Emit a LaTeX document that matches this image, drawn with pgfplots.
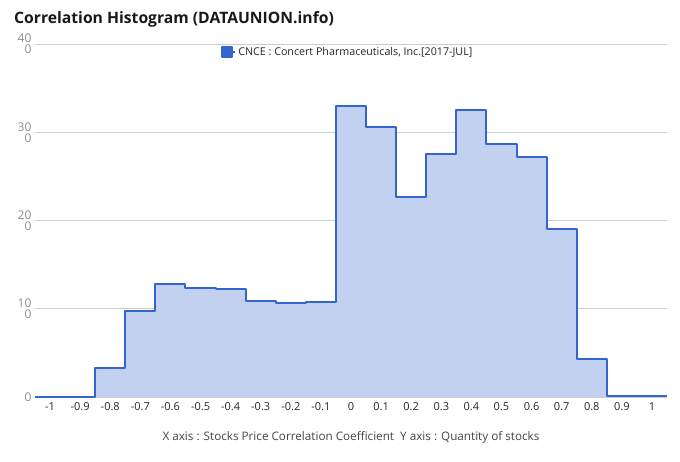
\documentclass[border=0pt]{standalone}
\usepackage{pgfplots}
\pgfplotsset{compat=1.18}
\usepackage{fontspec}
\setmainfont{Open Sans}

\definecolor{cnceblue}{RGB}{51,102,204}
\definecolor{cncefill}{RGB}{194,209,240}
\definecolor{gridgray}{RGB}{204,204,204}
\definecolor{labelgray}{RGB}{68,68,68}
\definecolor{ticklabgray}{RGB}{140,140,140}
\definecolor{basedark}{RGB}{51,51,51}

% step edges: each value holds from its x to the next x
\pgfplotstableread{
x y
-1.05 0
-0.95 0
-0.85 33
-0.75 98
-0.65 128
-0.55 123
-0.45 122
-0.35 109
-0.25 106
-0.15 108
-0.05 330
0.05 306
0.15 227
0.25 275
0.35 325
0.45 287
0.55 272
0.65 190
0.75 43
0.85 1
0.95 1
1.05 1
}\histdata

\begin{document}
\begin{tikzpicture}
\path[use as bounding box] (0pt,0pt) rectangle (680pt,462pt);
\node[anchor=base west, font=\bfseries\fontsize{15.7}{19}\selectfont, text=black!90, inner sep=0pt] at (14pt,438pt) {Correlation Histogram (DATAUNION.info)};

\begin{axis}[
at={(35pt,65pt)}, anchor=south west,
scale only axis, width=632pt, height=353pt,
xmin=-1.05, xmax=1.05, ymin=0, ymax=400,
axis lines*=left,
y axis line style={draw=none},
x axis line style={basedark, line width=1pt, -},
major tick length=0pt,
xtick={-1,-0.9,-0.8,-0.7,-0.6,-0.5,-0.4,-0.3,-0.2,-0.1,0,0.1,0.2,0.3,0.4,0.5,0.6,0.7,0.8,0.9,1},
xticklabels={-1,-0.9,-0.8,-0.7,-0.6,-0.5,-0.4,-0.3,-0.2,-0.1,0,0.1,0.2,0.3,0.4,0.5,0.6,0.7,0.8,0.9,1},
xticklabel style={font=\fontsize{11}{13}\selectfont, text=black!85, yshift=-2pt},
ytick={0,100,200,300,400},
yticklabels={0,{10\\0},{20\\0},{30\\0},{40\\0}},
yticklabel style={font=\fontsize{12}{11}\selectfont, text=ticklabgray, align=right},
ymajorgrids,
grid style={gridgray, line width=0.8pt},
legend style={at={(0.495,1)}, anchor=north, draw=none, fill=none,
  font=\fontsize{10.7}{13}\selectfont, text=black!85, inner sep=1pt},
legend image code/.code={\fill[cnceblue] (0pt,-5pt) rectangle (10pt,5pt);
  \path (0pt,0pt) -- (13pt,0pt);},
clip=false,
]
\addplot[const plot, fill=cncefill, draw=none, forget plot] table[x=x, y=y] {\histdata} \closedcycle;
\addplot[const plot, draw=cnceblue, line width=2pt, line join=round] table[x=x, y=y] {\histdata};
\addlegendentry{CNCE : Concert Pharmaceuticals, Inc.[2017-JUL]}
\end{axis}

\node[font=\fontsize{11.7}{14}\selectfont, text=labelgray] at (351pt,25pt) {X axis : Stocks Price Correlation Coefficient\ \ Y axis : Quantity of stocks};
\end{tikzpicture}
\end{document}
